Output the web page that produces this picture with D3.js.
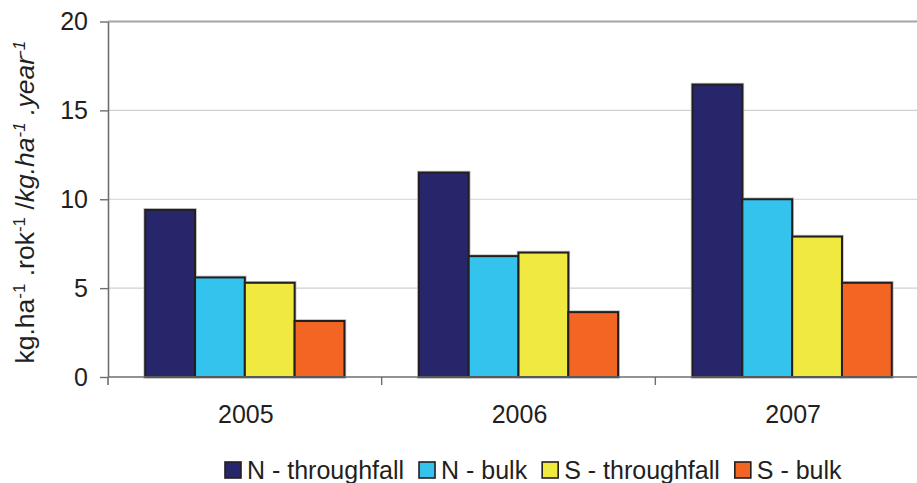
<!DOCTYPE html>
<html>
<head>
<meta charset="utf-8">
<script src="https://cdn.jsdelivr.net/npm/d3@7"></script>
<style>
  html, body { margin: 0; padding: 0; background: #fff; }
  svg { display: block; font-family: "Liberation Sans", Arial, sans-serif; }
</style>
</head>
<body>
<svg id="chart" width="917" height="483"></svg>
<script>
// Annual deposition by year
const years = ["2005", "2006", "2007"];
const seriesNames = ["N - throughfall", "N - bulk", "S - throughfall", "S - bulk"];
const nThroughfall = [9.4, 11.5, 16.45];
const nBulk = [5.6, 6.8, 10.0];
const sThroughfall = [5.3, 7.0, 7.9];
const sBulk = [3.15, 3.65, 5.3];
const seriesColors = ["#27266b", "#33c3ec", "#f0ea40", "#f26522"];
const yTicks = [0, 5, 10, 15, 20];

const seriesValues = [nThroughfall, nBulk, sThroughfall, sBulk];

const svg = d3.select("#chart");
const plotLeft = 108, plotRight = 929, plotTop = 21.5, plotBottom = 377;

const x = d3.scaleBand().domain(years).range([plotLeft, plotRight]).paddingInner(0).paddingOuter(0);
const bw = x.bandwidth();
const xs = d3.scaleBand().domain(seriesNames).range([bw * 0.136, bw * 0.864]).paddingInner(0).paddingOuter(0);
const y = d3.scaleLinear().domain([0, 20]).range([plotBottom, plotTop]);

const axisColor = "#6d6e71";
const textColor = "#231f20";

// gridlines
svg.append("g").selectAll("line")
  .data(yTicks.filter(d => d > 0))
  .join("line")
  .attr("x1", plotLeft).attr("x2", plotRight)
  .attr("y1", d => y(d)).attr("y2", d => y(d))
  .attr("stroke", d => d === 20 ? "#a3a4a6" : "#cfd0d2")
  .attr("stroke-width", d => d === 20 ? 2 : 1.2);

// bars
const groups = svg.append("g").selectAll("g")
  .data(years)
  .join("g")
  .attr("transform", d => `translate(${x(d)},0)`);

const barData = (yr, i) => seriesNames.map((s, k) => ({ s, k, v: seriesValues[k][i] }));

// soft halo around each bar
groups.selectAll("rect.halo")
  .data(barData)
  .join("rect")
  .attr("class", "halo")
  .attr("x", d => xs(d.s))
  .attr("width", xs.bandwidth())
  .attr("y", d => y(d.v))
  .attr("height", d => plotBottom - y(d.v))
  .attr("fill", "none")
  .attr("stroke", "#bcbec0")
  .attr("stroke-width", 3.6);

groups.selectAll("rect.bar")
  .data(barData)
  .join("rect")
  .attr("class", "bar")
  .attr("x", d => xs(d.s))
  .attr("width", xs.bandwidth())
  .attr("y", d => y(d.v))
  .attr("height", d => plotBottom - y(d.v))
  .attr("fill", d => seriesColors[d.k])
  .attr("stroke", textColor)
  .attr("stroke-width", 2);

// y axis
const yAxis = svg.append("g")
  .attr("transform", `translate(${plotLeft},0)`)
  .call(d3.axisLeft(y).tickValues(yTicks).tickSize(8).tickPadding(12).tickSizeOuter(0));
yAxis.select(".domain").attr("stroke", axisColor).attr("stroke-width", 1.6);
yAxis.selectAll(".tick line").attr("stroke", axisColor).attr("stroke-width", 1.4);
yAxis.selectAll(".tick text").attr("fill", textColor).style("font-size", "25px")
  .attr("font-family", "Liberation Sans, Arial, sans-serif");
// the vertical axis runs slightly below the baseline
svg.append("line").attr("x1", plotLeft).attr("x2", plotLeft).attr("y1", plotBottom).attr("y2", plotBottom + 8)
  .attr("stroke", axisColor).attr("stroke-width", 1.6);

// x axis with ticks at category boundaries
const xAxis = svg.append("g").attr("transform", `translate(0,${plotBottom})`);
xAxis.append("line").attr("x1", plotLeft).attr("x2", plotRight).attr("y1", 0).attr("y2", 0)
  .attr("stroke", axisColor).attr("stroke-width", 1.6);
xAxis.selectAll("line.tk")
  .data(years.slice(1).concat(["end"]))
  .join("line")
  .attr("class", "tk")
  .attr("x1", (d, i) => x(years[0]) + x.step() * (i + 1))
  .attr("x2", (d, i) => x(years[0]) + x.step() * (i + 1))
  .attr("y1", 0).attr("y2", 8)
  .attr("stroke", axisColor).attr("stroke-width", 1.4);
xAxis.selectAll("text")
  .data(years)
  .join("text")
  .attr("x", d => x(d) + bw / 2 + 1)
  .attr("y", 46)
  .attr("text-anchor", "middle")
  .attr("fill", textColor)
  .style("font-size", "25px")
  .text(d => d);

// y axis title with superscripts
const title = svg.append("text")
  .attr("transform", `translate(34,${(plotTop + plotBottom) / 2 + 3}) rotate(-90)`)
  .attr("text-anchor", "middle")
  .attr("fill", textColor)
  .style("font-size", "26.5px");
const parts = [
  ["kg.ha", false, false], ["-1", true, false], [" .rok", false, false], ["-1", true, false],
  [" /", false, false], ["kg.ha", false, true], ["-1", true, true], [" .year", false, true], ["-1", true, true]
];
parts.forEach(([t, sup, it]) => {
  title.append("tspan")
    .attr("baseline-shift", sup ? "super" : null)
    .style("font-size", sup ? "17px" : null)
    .style("font-style", it ? "italic" : null)
    .text(t);
});

// legend
const legend = svg.append("g").attr("transform", "translate(225,470)");
let lx = 0;
seriesNames.forEach((name, k) => {
  legend.append("rect")
    .attr("x", lx).attr("y", -8).attr("width", 16).attr("height", 16)
    .attr("fill", seriesColors[k]).attr("stroke", textColor).attr("stroke-width", 1.6);
  const t = legend.append("text")
    .attr("x", lx + 22).attr("y", 0).attr("dy", "0.35em")
    .attr("fill", textColor)
    .style("font-size", "25px")
    .text(name);
  lx += 22 + t.node().getComputedTextLength() + 15;
});
</script>
</body>
</html>
